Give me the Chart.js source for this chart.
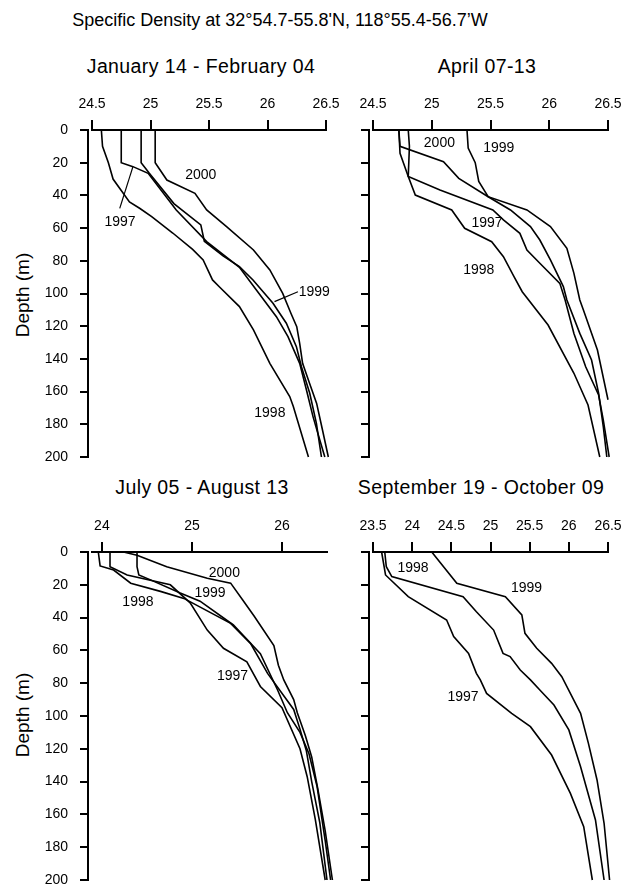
<!DOCTYPE html>
<html>
<head>
<meta charset="utf-8">
<script src="https://cdn.jsdelivr.net/npm/chart.js@4.4.1/dist/chart.umd.min.js"></script>
<style>
  html, body { margin: 0; padding: 0; background: #fff; overflow: hidden; }
  #page { position: relative; width: 623px; height: 886px; font-family: "Liberation Sans", Arial, sans-serif; color: #000; }
  .txt { position: absolute; white-space: nowrap; transform: translate(-50%, -50%); line-height: 1; }
  .ptitle { font-size: 19.5px; letter-spacing: 0.4px; }
  .ylab { font-size: 19px; transform: translate(-50%, -50%) rotate(-90deg); }
  canvas { position: absolute; }
</style>
</head>
<body>
<div id="page">
  <div class="txt" style="left:280px;top:20px;font-size:18px">Specific Density at 32°54.7-55.8'N, 118°55.4-56.7’W</div>
  <div class="txt ptitle" style="left:201px;top:67px">January 14 - February 04</div>
  <div class="txt ptitle" style="left:487px;top:67px">April 07-13</div>
  <div class="txt ptitle" style="left:202px;top:488px">July 05 - August 13</div>
  <div class="txt ptitle" style="left:481px;top:488px">September 19 - October 09</div>
  <div class="txt ylab" style="left:22px;top:295px">Depth (m)</div>
  <div class="txt ylab" style="left:22px;top:715px">Depth (m)</div>

  <canvas id="jan" width="346" height="387" style="left:0px;top:80px"></canvas>
  <canvas id="apr" width="293" height="387" style="left:330px;top:80px"></canvas>
  <canvas id="jul" width="346" height="390" style="left:0px;top:500px"></canvas>
  <canvas id="sep" width="293" height="390" style="left:330px;top:500px"></canvas>
</div>

<script>
// ticks
const depthTicks = [0, 20, 40, 60, 80, 100, 120, 140, 160, 180, 200];
const janTicks = [24.5, 25, 25.5, 26, 26.5];
const aprTicks = [24.5, 25, 25.5, 26, 26.5];
const julTicks = [24, 25, 26];
const sepTicks = [23.5, 24, 24.5, 25, 25.5, 26, 26.5];

// profiles: [specific density, depth m]
const jan1997 = [[24.75,0],[24.75,20],[24.85,22.4],[24.98,26.5],[25.22,48.9],[25.48,68.3],[25.76,84],[25.905,97.9],[26.076,114.2],[26.175,126.4],[26.275,142.7],[26.333,159],[26.389,175.3],[26.447,189.6],[26.49,200]];
const jan1998 = [[24.58,0],[24.59,10],[24.64,20],[24.68,30],[24.75,37],[24.82,44],[24.91,48],[25.01,53],[25.19,63],[25.36,73],[25.45,79.5],[25.53,91.7],[25.59,96],[25.76,108],[25.88,122.3],[26.02,142.7],[26.19,163],[26.22,169],[26.35,200]];
const jan1999 = [[24.92,0],[24.92,20],[24.99,26.5],[25.2,45],[25.43,58],[25.46,68],[25.62,77],[25.76,83.6],[25.876,91.7],[26.047,106],[26.161,118.2],[26.247,132.5],[26.29,144.8],[26.361,161],[26.418,179.4],[26.461,200]];
const jan2000 = [[25.04,0],[25.04,20],[25.14,30.6],[25.38,38.7],[25.48,48.9],[25.65,59.1],[25.88,73.4],[26.02,85.6],[26.13,99.9],[26.2,112.1],[26.25,120.3],[26.275,130.5],[26.3,142.7],[26.36,155],[26.42,167.2],[26.47,183.5],[26.52,200]];

const apr1997 = [[24.8,0],[24.81,10],[24.8,28.5],[25.07,36.7],[25.52,48.9],[25.61,55],[25.75,63.2],[25.81,73.4],[25.92,81.5],[26.09,93.8],[26.135,104],[26.21,124.4],[26.31,144.8],[26.42,162],[26.46,177.4],[26.51,200]];
const apr1998 = [[24.72,0],[24.73,14.3],[24.8,28.5],[24.86,39.8],[25.17,48.9],[25.28,60.1],[25.51,68.3],[25.61,77.5],[25.7,89.7],[25.77,98.9],[25.99,119.3],[26.21,148.8],[26.33,168.2],[26.43,200]];
const apr1999 = [[25.3,0],[25.31,11],[25.37,20],[25.4,31.5],[25.48,40.8],[25.81,48.9],[26.01,59.1],[26.15,72.4],[26.21,87.7],[26.26,104],[26.29,110],[26.41,134.6],[26.5,165],[26.59,200]];
const apr2000 = [[24.72,0],[24.73,10],[25.1,19.4],[25.23,29.6],[25.48,40.8],[25.67,48.9],[25.84,59.1],[25.92,67.3],[26.01,79.5],[26.12,95.8],[26.15,104],[26.26,124.4],[26.36,140.7],[26.42,161],[26.46,181.5],[26.49,200]];

const jul1997 = [[24.09,0],[24.09,9],[24.28,14],[24.76,20],[24.98,31],[25.17,47.6],[25.35,58.7],[25.61,67],[25.76,82],[26.0,95],[26.2,120],[26.28,137],[26.37,163],[26.48,200]];
const jul1998 = [[23.96,0],[23.98,8.5],[24.13,11],[24.32,19],[24.65,24],[24.91,28.3],[25.43,43.5],[25.65,55.7],[25.84,74],[26.13,96],[26.2,108],[26.27,121],[26.33,140],[26.42,165],[26.5,200]];
const jul1999 = [[24.39,0],[24.39,9],[24.41,14],[24.54,17],[24.87,25],[25.09,30],[25.46,44.5],[25.76,62],[25.95,84],[26.06,98],[26.2,110],[26.3,123],[26.39,143],[26.48,176],[26.54,200]];
const jul2000 = [[24.24,0],[24.39,2],[24.72,9],[25.17,16],[25.43,19],[25.56,29],[25.69,39],[25.91,57],[25.96,69],[26.02,78],[26.13,90],[26.17,98],[26.26,112],[26.33,125],[26.4,145],[26.48,170],[26.56,200]];

const sep1997 = [[23.61,0],[23.66,14],[23.95,27.2],[24.44,41.5],[24.53,51.6],[24.72,61.8],[24.82,74],[24.87,78],[24.95,86.2],[25.27,98.4],[25.51,106.5],[25.78,123.8],[26.02,147.2],[26.19,167.5],[26.3,200]];
const sep1998 = [[23.65,0],[23.67,9],[23.74,15],[24.65,27.2],[24.82,36.4],[25.04,47.6],[25.16,61.8],[25.25,63.8],[25.38,72],[25.51,78],[25.63,84.1],[25.81,93.3],[26.0,108.5],[26.15,130.9],[26.34,163.4],[26.45,200]];
const sep1999 = [[24.25,0],[24.57,19.1],[25.19,27.2],[25.4,38.4],[25.44,49.6],[25.59,58.7],[25.78,67.9],[25.91,76],[26.15,98.4],[26.25,116.7],[26.36,139],[26.45,165.4],[26.52,200]];

// year labels [text, density, depth] and leader lines
const janLabels = [['2000', 25.43, 27.5], ['1997', 24.74, 56.3], ['1999', 26.40, 98.9], ['1998', 26.02, 173]];
const janLeaders = [[[24.737, 47.9], [24.85, 22.4]], [[26.26, 98.9], [26.06, 105]]];
const aprLabels = [['2000', 25.065, 8.1], ['1999', 25.57, 11.2], ['1997', 25.47, 56.9], ['1998', 25.40, 85.6]];
const julLabels = [['2000', 25.36, 12.6], ['1999', 25.2, 25.2], ['1998', 24.4, 30.3], ['1997', 25.45, 76]];
const sepLabels = [['1998', 24.01, 10], ['1999', 25.46, 22.1], ['1997', 24.65, 88.2]];

Chart.defaults.font.family = '"Liberation Sans", Arial, sans-serif';
Chart.defaults.color = '#000';

const shiftY = {
  id: 'shiftY',
  afterLayout(chart) {
    const s = chart.scales.y;
    s.left -= 4;
    s.right -= 4;
  }
};

function yearLabels(items) {
  return {
    id: 'yearLabels',
    afterDatasetsDraw(chart) {
      const { ctx, scales: { x, y } } = chart;
      ctx.save();
      ctx.font = '14px "Liberation Sans", Arial, sans-serif';
      ctx.fillStyle = '#000';
      ctx.textAlign = 'center';
      ctx.textBaseline = 'middle';
      items.forEach(([t, dx, dy]) => ctx.fillText(t, x.getPixelForValue(dx), y.getPixelForValue(dy)));
      ctx.restore();
    }
  };
}

function pts(arr) {
  return arr.map(p => ({ x: p[0], y: p[1] }));
}

function makePanel(id, cfg) {
  const datasets = cfg.series.map(s => ({
    data: pts(s), borderColor: '#000', borderWidth: 1.6, showLine: true,
    pointRadius: 0, tension: 0, clip: false
  }));
  (cfg.leaders || []).forEach(l => datasets.push({
    data: pts(l), borderColor: '#000', borderWidth: 1.2, showLine: true,
    pointRadius: 0, clip: false
  }));

  new Chart(document.getElementById(id), {
    type: 'scatter',
    data: { datasets },
    options: {
      responsive: false,
      animation: false,
      events: [],
      layout: { padding: cfg.pad },
      plugins: { legend: { display: false }, tooltip: { enabled: false } },
      scales: {
        x: {
          type: 'linear', position: 'top', min: cfg.xMin, max: cfg.xMax,
          afterBuildTicks: s => { s.ticks = cfg.xTicks.map(v => ({ value: v })); },
          afterFit: s => { s.height = cfg.xHeight; s.paddingLeft = 0; s.paddingRight = 0; },
          ticks: { font: { size: 14 }, color: '#000', padding: 7, maxRotation: 0, autoSkip: false, callback: v => String(v) },
          grid: { drawOnChartArea: false, tickLength: 10, tickWidth: 2, tickColor: '#000', lineWidth: 2, color: '#000' },
          border: { color: '#000', width: 2 }
        },
        y: {
          type: 'linear', position: 'left', reverse: true, min: 0, max: 200,
          afterBuildTicks: s => { s.ticks = depthTicks.map(v => ({ value: v })); },
          afterFit: s => { s.width = cfg.yWidth; s.paddingTop = 0; s.paddingBottom = 0; },
          ticks: { display: cfg.yLabels, font: { size: 14 }, color: '#000', padding: 12, autoSkip: false, callback: v => String(v) },
          grid: { drawOnChartArea: false, tickLength: 8, tickWidth: 2, tickColor: '#000', lineWidth: 2, color: '#000' },
          border: { color: '#000', width: 2 }
        }
      }
    },
    plugins: [shiftY, yearLabels(cfg.labels)]
  });
}

makePanel('jan', {
  series: [jan1997, jan1998, jan1999, jan2000], leaders: janLeaders, labels: janLabels,
  xMin: 24.5, xMax: 26.5, xTicks: janTicks, xHeight: 50, yWidth: 92, yLabels: true,
  pad: { left: 0, top: 0, right: 20, bottom: 10 }
});
makePanel('apr', {
  series: [apr1997, apr1998, apr1999, apr2000], labels: aprLabels,
  xMin: 24.5, xMax: 26.5, xTicks: aprTicks, xHeight: 50, yWidth: 43, yLabels: false,
  pad: { left: 0, top: 0, right: 15, bottom: 10 }
});
makePanel('jul', {
  series: [jul1997, jul1998, jul1999, jul2000], labels: julLabels,
  xMin: 23.89, xMax: 26.5, xTicks: julTicks, xHeight: 52, yWidth: 92, yLabels: true,
  pad: { left: 0, top: 0, right: 19, bottom: 10 }
});
makePanel('sep', {
  series: [sep1997, sep1998, sep1999], labels: sepLabels,
  xMin: 23.5, xMax: 26.5, xTicks: sepTicks, xHeight: 52, yWidth: 43, yLabels: false,
  pad: { left: 0, top: 0, right: 15, bottom: 10 }
});
</script>
</body>
</html>
